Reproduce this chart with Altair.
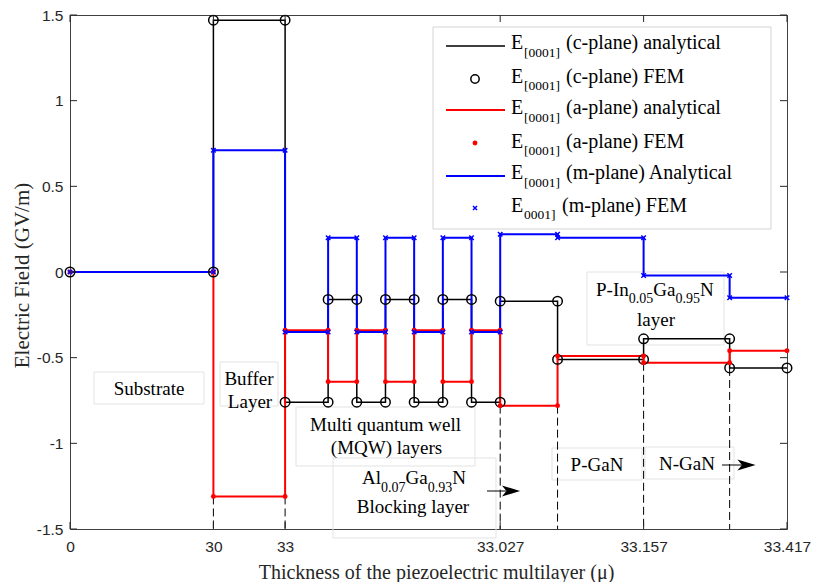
import altair as alt
import pandas as pd

# ---------------- data ----------------
# layer boundaries in plot-position units (axis is relabelled with thickness values)
boundaries = [0, 2, 3, 3.6, 4.0, 4.4, 4.8, 5.2, 5.6, 6.0, 6.8, 8.0, 9.2, 10]
c_plane = [0, 1.47, -0.76, -0.16, -0.76, -0.16, -0.76, -0.16, -0.76, -0.17, -0.51, -0.39, -0.56]
a_plane = [0, -1.31, -0.34, -0.64, -0.34, -0.64, -0.34, -0.64, -0.34, -0.78, -0.49, -0.53, -0.46]
m_plane = [0, 0.71, -0.35, 0.20, -0.35, 0.20, -0.35, 0.20, -0.35, 0.22, 0.20, -0.02, -0.15]

x_tick_pos = [0, 2, 3, 6, 8, 10]
x_tick_labels = ["0", "30", "33", "33.027", "33.157", "33.417"]
y_ticks = [-1.5, -1, -0.5, 0, 0.5, 1, 1.5]
dashed_x = [2, 3, 6, 6.8, 8, 9.2]

legend_subs = ["[0001]", "[0001]", "[0001]", "[0001]", "[0001]", "0001]"]
legend_rest = ["(c-plane) analytical", "(c-plane) FEM", "(a-plane) analytical",
               "(a-plane) FEM", "(m-plane) Analytical", "(m-plane) FEM"]

# ---------------- layout ----------------
W, H = 717, 514
L, T = 70, 15
SERIF = "Liberation Serif"
SANS = "Liberation Sans"
AX = "#262626"


def steps(values):
    rows = []
    for i, v in enumerate(values):
        rows.append({"x": boundaries[i], "y": v, "o": 2 * i})
        rows.append({"x": boundaries[i + 1], "y": v, "o": 2 * i + 1})
    return pd.DataFrame(rows)


df_c, df_a, df_m = steps(c_plane), steps(a_plane), steps(m_plane)

dash_rows = []
for xd in dashed_x:
    i = boundaries.index(xd)
    lo = min(s[j] for s in (c_plane, a_plane, m_plane) for j in (i - 1, i))
    dash_rows.append({"x": xd, "y": lo})
df_dash = pd.DataFrame(dash_rows)

xscale = alt.Scale(domain=[0, 10], nice=False, zero=False)
yscale = alt.Scale(domain=[-1.5, 1.5], nice=False, zero=False)

expr = ""
for p, l in zip(x_tick_pos, x_tick_labels):
    expr += f"datum.value == {p} ? '{l}' : "
expr += "''"

xaxis = alt.Axis(values=x_tick_pos, labelExpr=expr,
                 title="Thickness of the piezoelectric multilayer (μ)",
                 ticks=False, domain=False, grid=False, labelFont=SANS, labelFontSize=15.5,
                 labelColor=AX, labelPadding=10, labelFlush=False,
                 titleFont=SERIF, titleFontSize=20, titleFontWeight="normal", titleColor=AX,
                 titleBaseline="alphabetic", titleY=49, titleX=366)
yaxis = alt.Axis(values=y_ticks, labelExpr="'' + datum.value",
                 title="Electric Field (GV/m)",
                 ticks=False, domain=False, grid=False, labelFont=SANS, labelFontSize=15.5,
                 labelColor=AX, labelPadding=7,
                 titleFont=SERIF, titleFontSize=21, titleFontWeight="normal", titleColor=AX,
                 titleAngle=270, titleBaseline="alphabetic", titleX=-42, titleY=260,
                 titleAlign="center")

X = alt.X("x:Q", scale=xscale, axis=xaxis)
Y = alt.Y("y:Q", scale=yscale, axis=yaxis)

one = pd.DataFrame({"k": [0]})


def px(x):
    return alt.value(x - L)


def py(y):
    return alt.value(y - T)


def box(x1, y1, x2, y2, stroke="#e3e3e3", fill="white", fo=0.0):
    return alt.Chart(one).mark_rect(fill=fill, fillOpacity=fo, stroke=stroke, strokeWidth=1).encode(
        x=px(x1), x2=px(x2), y=py(y1), y2=py(y2))


def txt(x, y, s, size=19, align="left", font=SERIF):
    return alt.Chart(one).mark_text(font=font, fontSize=size, align=align, baseline="alphabetic",
                                    color="black").encode(x=px(x), y=py(y), text=alt.value(s))


layers = []

# annotation boxes
for b in [(94, 372, 204, 404), (220, 362, 278, 406), (296, 407, 475, 466), (333, 458, 496, 538),
          (552, 448, 642, 480), (645, 447, 734, 479), (587, 272, 724, 345)]:
    layers.append(box(*b))

# dashed guides
layers.append(alt.Chart(df_dash).mark_rule(color="black", strokeWidth=1, strokeDash=[8, 4]).encode(
    x=X, y=Y, y2=alt.value(H)))

# analytical step lines
layers.append(alt.Chart(df_c).mark_line(color="black", strokeWidth=1.5).encode(x=X, y=Y, order="o:Q"))
layers.append(alt.Chart(df_a).mark_line(color="#ff0000", strokeWidth=2).encode(x=X, y=Y, order="o:Q"))
layers.append(alt.Chart(df_m).mark_line(color="#0000ff", strokeWidth=2).encode(x=X, y=Y, order="o:Q"))

# FEM points
layers.append(alt.Chart(df_c).mark_point(shape="circle", filled=False, color="black", size=90,
                                         strokeWidth=1.5, opacity=1).encode(x=X, y=Y))
layers.append(alt.Chart(df_a).mark_point(shape="circle", filled=True, color="#ff0000", size=24,
                                         opacity=1).encode(x=X, y=Y))
XSHAPE = "M-1,-1L1,1M-1,1L1,-1"
layers.append(alt.Chart(df_m).mark_point(shape=XSHAPE, filled=False, color="#0000ff", size=20,
                                         strokeWidth=1.5, opacity=1).encode(x=X, y=Y))

# inward ticks
df_yt = pd.DataFrame({"y": y_ticks})
df_xt = pd.DataFrame({"x": x_tick_pos})
layers.append(alt.Chart(df_yt).mark_rule(color=AX, strokeWidth=1).encode(y=Y, x=alt.value(0), x2=alt.value(7)))
layers.append(alt.Chart(df_yt).mark_rule(color=AX, strokeWidth=1).encode(y=Y, x=alt.value(W), x2=alt.value(W - 7)))
layers.append(alt.Chart(df_xt).mark_rule(color=AX, strokeWidth=1).encode(x=X, y=alt.value(H), y2=alt.value(H - 7)))
layers.append(alt.Chart(df_xt).mark_rule(color=AX, strokeWidth=1).encode(x=X, y=alt.value(0), y2=alt.value(7)))

# legend
layers.append(box(433, 27, 771, 229, stroke="#d4d4d4", fill="white", fo=1.0))
sym_y = [46, 79, 110, 143, 176, 208]
base_y = [49, 82.5, 114, 147.5, 179, 211.5]
line_cols = [("black", 1.5), ("#ff0000", 2), ("#0000ff", 2)]
for k, (col, sw) in enumerate(line_cols):
    layers.append(alt.Chart(one).mark_rule(color=col, strokeWidth=sw).encode(
        x=px(446), x2=px(505), y=py(sym_y[2 * k])))
layers.append(alt.Chart(one).mark_point(shape="circle", filled=False, color="black", size=70,
                                        strokeWidth=1.5, opacity=1).encode(x=px(475), y=py(sym_y[1])))
layers.append(alt.Chart(one).mark_point(shape="circle", filled=True, color="#ff0000", size=24,
                                        opacity=1).encode(x=px(475), y=py(sym_y[3])))
layers.append(alt.Chart(one).mark_point(shape=XSHAPE, filled=False, color="#0000ff", size=16,
                                        strokeWidth=1.5, opacity=1).encode(x=px(475), y=py(sym_y[5])))
for k in range(6):
    layers.append(txt(511, base_y[k], "E", size=20))
    layers.append(txt(524, base_y[k] + 7.5, legend_subs[k], size=13.5))
    layers.append(txt(566 if k < 5 else 562, base_y[k], legend_rest[k], size=20))

# annotation texts
layers.append(txt(149, 395, "Substrate", align="center"))
layers.append(txt(249, 385, "Buffer", align="center"))
layers.append(txt(250, 408, "Layer", align="center"))
layers.append(txt(385.5, 431, "Multi quantum well", align="center"))
layers.append(txt(386.5, 454, "(MQW) layers", align="center"))
layers.append(txt(362, 484, "Al"))
layers.append(txt(381, 492, "0.07", size=14))
layers.append(txt(405.5, 484, "Ga"))
layers.append(txt(427.7, 492, "0.93", size=14))
layers.append(txt(452.2, 484, "N"))
layers.append(txt(413, 513, "Blocking layer", align="center"))
layers.append(txt(597, 471, "P-GaN", align="center"))
layers.append(txt(687, 470, "N-GaN", align="center"))
layers.append(txt(596, 295.5, "P-In"))
layers.append(txt(628.7, 303, "0.05", size=14))
layers.append(txt(653.2, 295.5, "Ga"))
layers.append(txt(675.4, 303, "0.95", size=14))
layers.append(txt(699.9, 295.5, "N"))
layers.append(txt(656, 326, "layer", align="center"))

# arrows
HEAD = "M-1,-0.6L1,0L-1,0.6L-0.5,0Z"
for (x1, x2, yy, hc) in [(487, 506, 491, 511), (722, 742, 465, 746.5)]:
    layers.append(alt.Chart(one).mark_rule(color="black", strokeWidth=1).encode(
        x=px(x1), x2=px(x2), y=py(yy)))
    layers.append(alt.Chart(one).mark_point(shape=HEAD, filled=True, color="black", size=330,
                                            opacity=1).encode(x=px(hc), y=py(yy)))

chart = alt.layer(*layers).properties(
    width=W, height=H, autosize=alt.AutoSizeParams(type="none"),
    padding={"left": L, "top": T, "right": 814 - L - W, "bottom": 582 - T - H},
    background="white",
).configure_view(stroke="#404040", strokeWidth=1)

chart.save("out.html", embed_options={"renderer": "svg", "actions": False})
